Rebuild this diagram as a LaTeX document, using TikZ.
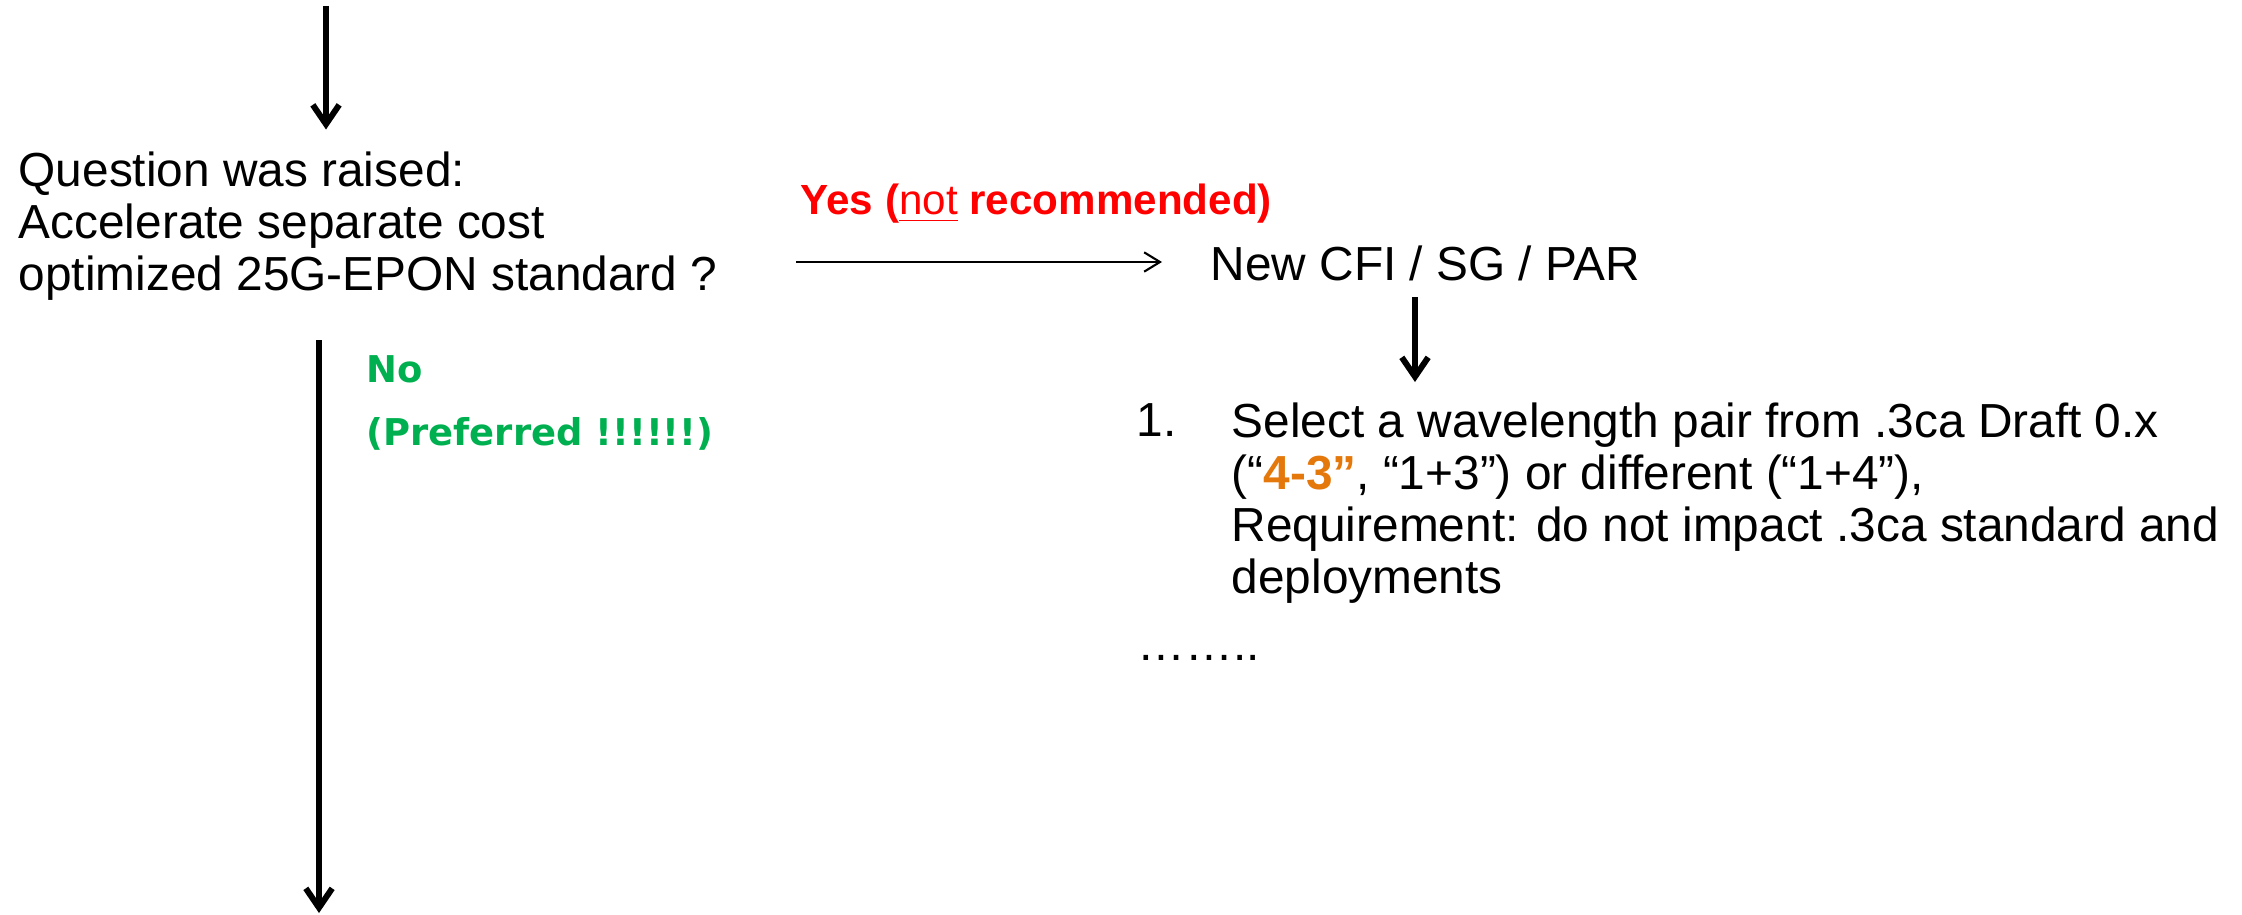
\documentclass[tikz,border=0pt]{standalone}
\usepackage{fontspec}
\setmainfont{Liberation Sans}
\newfontfamily\greenfont{DejaVu Sans}
\usetikzlibrary{arrows.meta}
\definecolor{yesred}{RGB}{255,0,0}
\definecolor{nogreen}{RGB}{0,176,80}
\definecolor{pairorange}{RGB}{228,120,10}
\tikzset{
  bigarrow/.style={-{Straight Barb[length=5.5pt,width=7.5pt]}, line width=1.7pt},
  thinarrow/.style={-{Straight Barb[length=4.5pt,width=5.5pt]}, line width=0.6pt},
  txt/.style={inner sep=0pt, align=left, font=\fontsize{13.6}{14.8}\selectfont},
}

\begin{document}
\begin{tikzpicture}
\useasboundingbox (0,0) rectangle (22.42,-9.15);
% the question
\node[txt, anchor=north west] (question) at (0.18,-1.515) {Question was raised:\\Accelerate separate cost\\optimized 25G-EPON standard ?};
\coordinate (start) at (3.26,-0.06);
\draw[bigarrow, shorten >=0.22cm] (start) -- (start |- question.north);
% yes branch
\node[inner sep=0pt, anchor=base west, text=yesred, font=\fontsize{12}{14}\selectfont\bfseries] (yes) at (8.00,-2.15) {Yes ({\mdseries\underline{not}} recommended)};
\node[txt, anchor=base west] (newcfi) at (12.10,-2.80) {New CFI / SG / PAR};
\coordinate (yesfrom) at (7.96,-2.62);
\draw[thinarrow, shorten >=0.48cm] (yesfrom) -- (yesfrom -| newcfi.west);
\node[txt, anchor=north west] (item) at (12.31,-4.02) {Select a wavelength pair from .3ca Draft 0.x\\(“{\bfseries\color{pairorange}4-3”}, “1+3”) or different (“1+4”),\\Requirement: do not impact .3ca standard and\\deployments};
\node[txt, anchor=base west] (num) at (11.36,-4.36) {1.};
\node[txt, anchor=base west] (more) at (11.37,-6.60) {……..};
\coordinate (cfidown) at (14.15,-2.97);
\draw[bigarrow, shorten >=0.2cm] (cfidown) -- (cfidown |- item.north);
% no branch
\node[inner sep=0pt, anchor=north west, align=left, text=nogreen, font=\greenfont\bfseries\fontsize{10.5}{17.9}\selectfont] (no) at (3.66,-3.55) {No\\(Preferred !!!!!!)};
\coordinate (noend) at (3.19,-9.13);
\draw[bigarrow, shorten <=0.39cm] (noend |- question.south) -- (noend);
\end{tikzpicture}
\end{document}
